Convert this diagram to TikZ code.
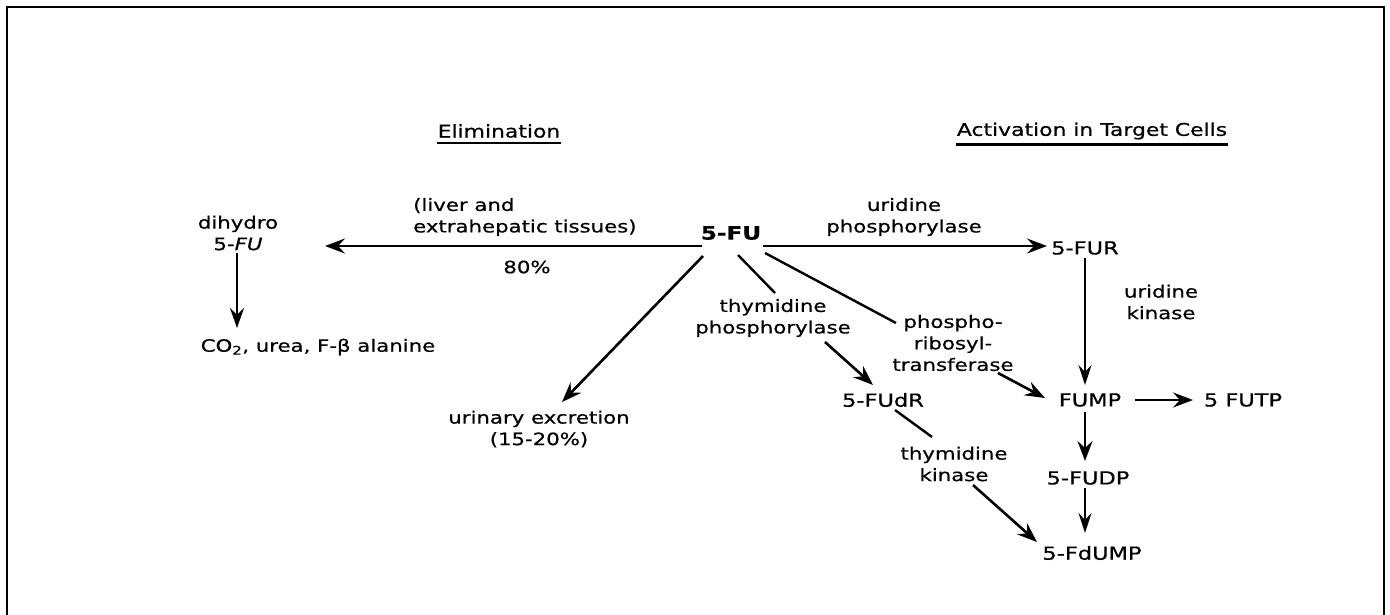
\documentclass[tikz,border=0pt]{standalone}
\usepackage{fontspec}
\setmainfont[FakeStretch=1.25, FakeBold=0.6]{DejaVu Sans}
\usetikzlibrary{arrows.meta}
\begin{document}
\begin{tikzpicture}[x=1pt,y=1pt,
  every node/.style={font=\fontsize{17}{21.5}\selectfont, align=center, inner sep=1pt},
  title/.style={font=\fontsize{17.5}{21.5}\selectfont},
  cpd/.style={font=\fontsize{18}{21.5}\selectfont},
  conn/.style={line width=2.4pt},
  arr/.style={line width=2.6pt, -{Stealth[length=20pt,width=15pt,inset=7pt]}},
  arrthin/.style={line width=1.5pt, -{Stealth[length=20pt,width=13pt,inset=7pt]}}]
\useasboundingbox (0,0) rectangle (1390,-615);
% frame
\draw[line width=2.5pt] (7,-615) -- (7,-7) -- (1384,-7) -- (1384,-615);
% titles
\node[title] (elim) at (499,-131) {Elimination};
\draw[line width=2.4pt] ([yshift=-4pt]elim.south west) -- ([yshift=-4pt]elim.south east);
\node[title] (act) at (1092,-131) {Activation in Target Cells};
\draw[line width=2.4pt] ([yshift=-4pt]act.south west) -- ([yshift=-4pt]act.south east);
% compounds
\node[font=\fontsize{18.5}{21.5}\selectfont\bfseries] (fu) at (731,-233) {5-FU};
\node (dh) at (238,-233) {dihydro\\5-\textit{FU}};
\node (co2) at (318,-347) {CO\textsubscript{2}, urea, F-β alanine};
\node (ur) at (539,-429) {urinary excretion\\(15-20\%)};
\node[cpd] (fur) at (1085,-248) {5-FUR};
\node[cpd] (fump) at (1090,-400) {FUMP};
\node[cpd] (futp) at (1243,-400) {5 FUTP};
\node[cpd] (fudp) at (1088,-478) {5-FUDP};
\node[cpd] (fdump) at (1092,-553) {5-FdUMP};
\node[cpd] (fudr) at (883,-400) {5-FUdR};
% enzyme labels
\node[anchor=west, align=left] (liver) at (412,-217) {(liver and\\extrahepatic tissues)};
\node (pct) at (527,-267) {80\%};
\node (uph) at (904,-217) {uridine\\phosphorylase};
\node (uk) at (1161,-302) {uridine\\kinase};
\node (tp) at (773,-318) {thymidine\\phosphorylase};
\node (prt) at (953,-343) {phospho-\\ribosyl-\\transferase};
\node (tk) at (954,-464) {thymidine\\kinase};
% connectors
\draw[arr] ([shift={(-29,-13)}]fu.center) -- ([shift={(87,-13)}]dh.center);
\draw[arr] ([shift={(32,-13)}]fu.center) -- ([shift={(-38,2)}]fur.center);
\draw[conn, -{Stealth[length=20pt,width=14pt,inset=7pt]}] ([shift={(-1,-20)}]dh.center) -- ([shift={(-81,19)}]co2.center);
\draw[arr] ([shift={(-28,-23)}]fu.center) -- ([shift={(23,27)}]ur.center);
\draw[conn] ([shift={(7,-22)}]fu.center) -- ([shift={(2,25)}]tp.center);
\draw[arr] ([shift={(52,-24)}]tp.center) -- ([shift={(-10,15)}]fudr.center);
\draw[conn] ([shift={(34,-20)}]fu.center) -- ([shift={(-57,20)}]prt.center);
\draw[arr] ([shift={(45,-30)}]prt.center) -- ([shift={(-45,2)}]fump.center);
\draw[conn] ([shift={(12,-10)}]fudr.center) -- ([shift={(-22,27)}]tk.center);
\draw[arr] ([shift={(19,-21)}]tk.center) -- ([shift={(-55,11)}]fdump.center);
\draw[arrthin] ([shift={(0,-10)}]fur.center) -- ([shift={(-5,15)}]fump.center);
\draw[arr] ([shift={(45,0)}]fump.center) -- ([shift={(-50,0)}]futp.center);
\draw[arr] ([shift={(-5,-12)}]fump.center) -- ([shift={(-3,17)}]fudp.center);
\draw[arrthin] ([shift={(-3,-10)}]fudp.center) -- ([shift={(-7,20)}]fdump.center);
\end{tikzpicture}
\end{document}
